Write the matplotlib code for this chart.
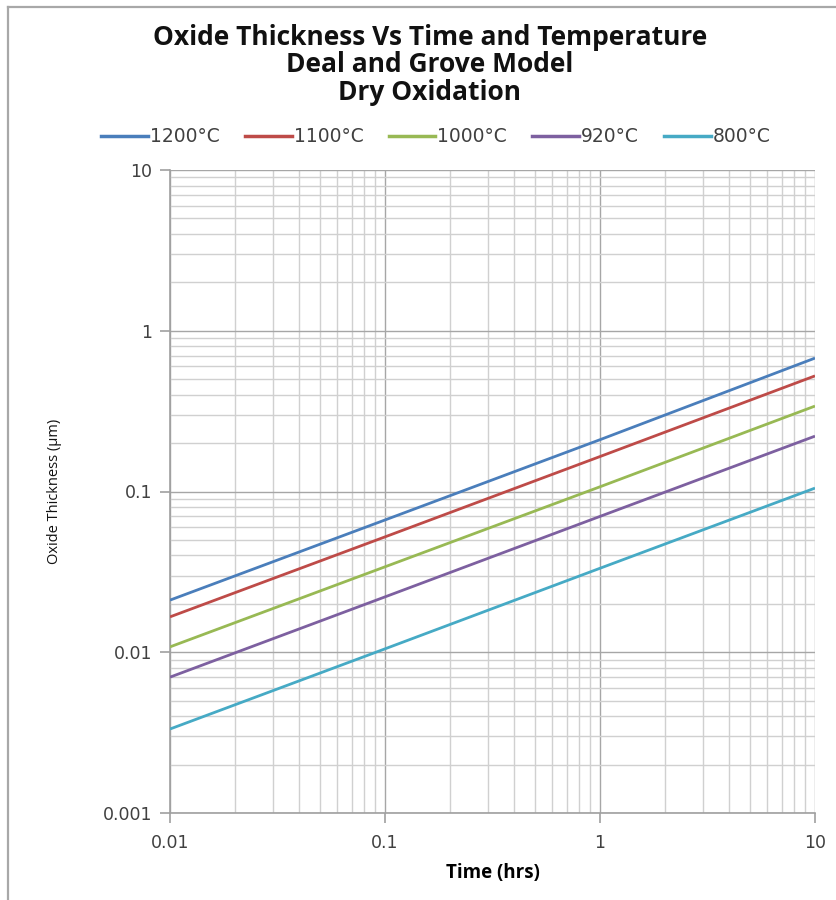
import matplotlib
matplotlib.use("Agg")
import matplotlib.pyplot as plt
from matplotlib.lines import Line2D
from matplotlib.ticker import LogLocator, NullFormatter, FixedLocator, FixedFormatter

plt.rcParams["font.family"] = ["DejaVu Sans"]

# Oxide thickness (um) vs. oxidation time (hrs), dry oxidation
time_hrs = [0.01, 0.1, 1, 10]
thick_1200 = [0.0211, 0.0665, 0.210, 0.676]
thick_1100 = [0.0166, 0.0522, 0.165, 0.524]
thick_1000 = [0.0108, 0.0340, 0.107, 0.340]
thick_920 = [0.0070, 0.0221, 0.070, 0.221]
thick_800 = [0.00333, 0.0105, 0.0333, 0.105]

series_labels = ["1200°C", "1100°C", "1000°C", "920°C", "800°C"]
series_values = [thick_1200, thick_1100, thick_1000, thick_920, thick_800]
series_colors = ["#4A7EBB", "#BE4B48", "#98B954", "#7D60A0", "#46AAC5"]

x_ticks = [0.01, 0.1, 1, 10]
x_tick_labels = ["0.01", "0.1", "1", "10"]
y_ticks = [0.001, 0.01, 0.1, 1, 10]
y_tick_labels = ["0.001", "0.01", "0.1", "1", "10"]

fig = plt.figure(figsize=(8.37, 9.0), dpi=100)
ax = fig.add_axes([170 / 837, 1 - 813 / 900, 645 / 837, 643 / 900])

for vals, lab, col in zip(series_values, series_labels, series_colors):
    ax.plot(time_hrs, vals, color=col, lw=2.0, label=lab, solid_capstyle="butt", zorder=3)

ax.set_xscale("log")
ax.set_yscale("log")
ax.set_xlim(0.01, 10)
ax.set_ylim(0.001, 10)

ax.xaxis.set_major_locator(FixedLocator(x_ticks))
ax.xaxis.set_major_formatter(FixedFormatter(x_tick_labels))
ax.yaxis.set_major_locator(FixedLocator(y_ticks))
ax.yaxis.set_major_formatter(FixedFormatter(y_tick_labels))
for axis in (ax.xaxis, ax.yaxis):
    axis.set_minor_locator(LogLocator(base=10, subs=range(2, 10), numticks=20))
    axis.set_minor_formatter(NullFormatter())

ax.grid(which="major", color="#A6A6A6", lw=1.0, zorder=0)
ax.grid(which="minor", color="#D0D0D0", lw=1.0, zorder=0)
ax.set_axisbelow(True)

for s in ("top", "right"):
    ax.spines[s].set_visible(False)
for s in ("left", "bottom"):
    ax.spines[s].set_color("#A0A0A0")
    ax.spines[s].set_linewidth(1.2)

ax.tick_params(which="major", length=7, width=1.2, color="#A0A0A0",
               labelsize=12.5, labelcolor="#404040", pad=6)
ax.tick_params(axis="x", which="major", pad=8)
ax.tick_params(which="minor", length=0)

ax.set_xlabel("Time (hrs)", family="Open Sans", fontweight="bold", fontsize=13.5)
ax.set_ylabel("Oxide Thickness (µm)", family="Open Sans", fontsize=10.5, color="#111111")
ax.xaxis.set_label_coords((493 - 170) / 645, -(873 - 813) / 643)
ax.yaxis.set_label_coords(-(170 - 55) / 645, (813 - 491) / 643)
ax.xaxis.label.set_va("center")
ax.yaxis.label.set_va("center")

fig.text(430 / 837, 1 - 65 / 900,
         "Oxide Thickness Vs Time and Temperature\nDeal and Grove Model\nDry Oxidation",
         ha="center", va="center", family="Open Sans", fontweight="bold",
         fontsize=19, linespacing=1.02, color="#111111")

handles = [Line2D([], [], color=c, lw=2.5) for c in series_colors]
fig.legend(handles, series_labels, loc="center", bbox_to_anchor=(436 / 837, 1 - 137 / 900),
           ncol=5, frameon=False, handlelength=2.5, handletextpad=0.1,
           columnspacing=1.35, prop={"family": "DejaVu Sans", "size": 13.5},
           labelcolor="#404040")

# outer frame lines along the top and left edges
fig.add_artist(Line2D([8 / 837, 8 / 837], [0, 1 - 7 / 900], color="#A8A8A8", lw=1.6,
                      transform=fig.transFigure))
fig.add_artist(Line2D([8 / 837, 1], [1 - 7 / 900, 1 - 7 / 900], color="#A8A8A8", lw=1.6,
                      transform=fig.transFigure))

fig.savefig("out.png", dpi=100, facecolor="white")
